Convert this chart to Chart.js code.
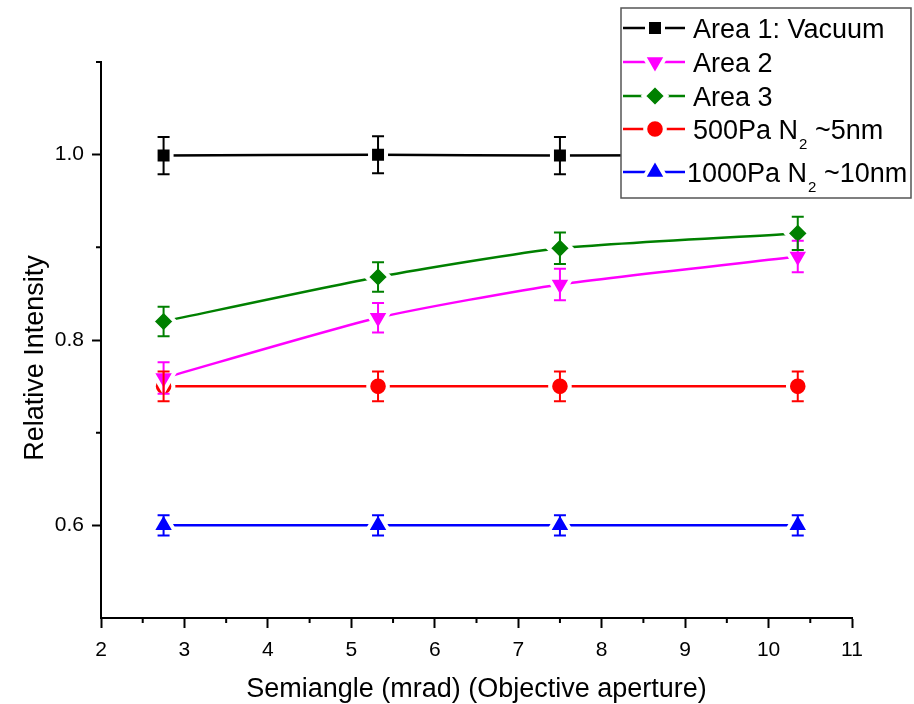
<!DOCTYPE html>
<html>
<head>
<meta charset="utf-8">
<script src="https://cdn.jsdelivr.net/npm/chart.js@4.4.0/dist/chart.umd.min.js"></script>
<style>
  html, body { margin: 0; padding: 0; background: #fff; }
  #wrap { width: 914px; height: 704px; }
</style>
</head>
<body>
<div id="wrap"><canvas id="chart" width="914" height="704"></canvas></div>
<script>
const FONT = "'Liberation Sans', Arial, sans-serif";

// data
const semiangle = [2.75, 5.32, 7.5, 10.35];
const vacuum = [0.999, 1.0, 0.999, 1.0];
const vacuumErr = [0.02, 0.02, 0.02, 0.02];
const area2 = [0.759, 0.824, 0.86, 0.89];
const area2Err = [0.017, 0.016, 0.017, 0.017];
const area3 = [0.82, 0.868, 0.899, 0.915];
const area3Err = [0.016, 0.016, 0.017, 0.018];
const n500 = [0.75, 0.75, 0.75, 0.75];
const n500Err = [0.016, 0.016, 0.016, 0.016];
const n1000 = [0.6, 0.6, 0.6, 0.6];
const n1000Err = [0.011, 0.011, 0.011, 0.011];

const xTicks = [2, 3, 4, 5, 6, 7, 8, 9, 10, 11];
const xMinor = [2.5, 3.5, 4.5, 5.5, 6.5, 7.5, 8.5, 9.5, 10.5];
const yTicks = [0.6, 0.8, 1.0];
const yMinor = [0.7, 0.9, 1.1];

const yTitle = 'Relative Intensity';
const xTitle = 'Semiangle (mrad) (Objective aperture)';

// legend text, [main, subscript, rest]
const legendText = [
  ['Area 1: Vacuum'],
  ['Area 2'],
  ['Area 3'],
  ['500Pa N', '2', ' ~5nm'],
  ['1000Pa N', '2', ' ~10nm']
];

var pts = (ys) => semiangle.map((x, i) => ({ x: x, y: ys[i] }));

var makeSet = (label, ys, errs, color, style, radius, rotation) => ({
  label: label,
  data: pts(ys),
  errors: errs,
  borderColor: color,
  backgroundColor: color,
  borderWidth: 2.5,
  tension: 0.2,
  pointStyle: style,
  pointRadius: radius,
  pointHoverRadius: radius,
  pointRotation: rotation || 0,
  pointBackgroundColor: color,
  pointBorderColor: '#fff',
  pointBorderWidth: 4
});

const datasets = [
  makeSet('Area 1: Vacuum', vacuum, vacuumErr, '#000000', 'rect', 11.3),
  makeSet('Area 2', area2, area2Err, '#ff00ff', 'triangle', 13.5, 180),
  makeSet('Area 3', area3, area3Err, '#008000', 'rectRot', 11.5),
  makeSet('500Pa N2 ~5nm', n500, n500Err, '#ff0000', 'circle', 9.8),
  makeSet('1000Pa N2 ~10nm', n1000, n1000Err, '#0000ff', 'triangle', 13.5)
];

var errorBars = {
  id: 'errorBars',
  afterDatasetsDraw(chart) {
    const ctx = chart.ctx;
    const ys = chart.scales.y;
    chart.data.datasets.forEach((ds, i) => {
      const meta = chart.getDatasetMeta(i);
      ctx.save();
      ctx.strokeStyle = ds.borderColor;
      ctx.lineWidth = 2;
      meta.data.forEach((pt, j) => {
        const v = ds.data[j].y, e = ds.errors[j];
        const top = ys.getPixelForValue(v + e);
        const bot = ys.getPixelForValue(v - e);
        ctx.beginPath();
        ctx.moveTo(pt.x, top); ctx.lineTo(pt.x, bot);
        ctx.moveTo(pt.x - 6, top); ctx.lineTo(pt.x + 6, top);
        ctx.moveTo(pt.x - 6, bot); ctx.lineTo(pt.x + 6, bot);
        ctx.stroke();
      });
      ctx.restore();
    });
  }
};

var minorTicks = {
  id: 'minorTicks',
  afterDraw(chart) {
    const ctx = chart.ctx;
    const xs = chart.scales.x, ys = chart.scales.y;
    const area = chart.chartArea;
    ctx.save();
    ctx.strokeStyle = '#000';
    ctx.lineWidth = 2;
    ctx.beginPath();
    xMinor.forEach(v => {
      const px = xs.getPixelForValue(v);
      ctx.moveTo(px, area.bottom); ctx.lineTo(px, area.bottom + 5);
    });
    yMinor.forEach(v => {
      const py = ys.getPixelForValue(v);
      ctx.moveTo(area.left, py); ctx.lineTo(area.left - 5, py);
    });
    ctx.stroke();
    // y axis title, placed as in the original (a bit below centre)
    ctx.fillStyle = '#000';
    ctx.font = '27px ' + FONT;
    ctx.textAlign = 'center';
    ctx.textBaseline = 'middle';
    ctx.translate(36, 358);
    ctx.rotate(-Math.PI / 2);
    ctx.fillText(yTitle, 0, 0);
    ctx.restore();
  }
};

var drawMarker = (ctx, style, x, y, r, rot) => {
  ctx.beginPath();
  if (style === 'rect') {
    const s = r * Math.SQRT1_2;
    ctx.rect(x - s, y - s, 2 * s, 2 * s);
  } else if (style === 'rectRot') {
    ctx.moveTo(x, y - r); ctx.lineTo(x + r, y); ctx.lineTo(x, y + r); ctx.lineTo(x - r, y);
    ctx.closePath();
  } else if (style === 'circle') {
    ctx.arc(x, y, r, 0, Math.PI * 2);
  } else {
    let a = (rot || 0) * Math.PI / 180;
    for (let k = 0; k < 3; k++) {
      const px = x + Math.sin(a) * r, py = y - Math.cos(a) * r;
      if (k === 0) ctx.moveTo(px, py); else ctx.lineTo(px, py);
      a += Math.PI * 2 / 3;
    }
    ctx.closePath();
  }
};

var boxLegend = {
  id: 'boxLegend',
  afterDraw(chart) {
    const ctx = chart.ctx;
    const rows = [28, 62, 96, 129, 172];
    ctx.save();
    ctx.fillStyle = '#fff';
    ctx.fillRect(621, 8, 290, 190);
    ctx.strokeStyle = '#555';
    ctx.lineWidth = 1.5;
    ctx.strokeRect(621, 8, 290, 190);
    chart.data.datasets.forEach((ds, i) => {
      const y = rows[i];
      // line sample
      ctx.strokeStyle = ds.borderColor;
      ctx.lineWidth = 2.5;
      ctx.beginPath();
      ctx.moveTo(623, y); ctx.lineTo(685, y);
      ctx.stroke();
      ctx.lineWidth = 4;
      ctx.strokeStyle = '#fff';
      ctx.fillStyle = ds.borderColor;
      drawMarker(ctx, ds.pointStyle, 655, y, ds.pointRadius, ds.pointRotation);
      ctx.fill();
      ctx.stroke();
      // text
      const parts = legendText[i];
      let tx = i === 4 ? 687 : 693;
      const base = y + 9.5;
      ctx.fillStyle = '#000';
      ctx.textBaseline = 'alphabetic';
      ctx.textAlign = 'left';
      ctx.font = '27px ' + FONT;
      ctx.fillText(parts[0], tx, base);
      tx += ctx.measureText(parts[0]).width;
      if (parts.length > 1) {
        ctx.font = '15px ' + FONT;
        ctx.fillText(parts[1], tx + 1, base + 10);
        tx += ctx.measureText(parts[1]).width + 1;
        ctx.font = '27px ' + FONT;
        ctx.fillText(parts[2], tx, base);
      }
    });
    ctx.restore();
  }
};

var drawChart = () => {
  new Chart(document.getElementById('chart'), {
    type: 'line',
    data: { datasets: datasets },
    plugins: [errorBars, minorTicks, boxLegend],
    options: {
      responsive: false,
      animation: false,
      events: [],
      layout: { padding: { left: 0, top: 62, right: 62, bottom: 0 } },
      plugins: { legend: { display: false }, tooltip: { enabled: false } },
      scales: {
        x: {
          type: 'linear',
          min: 2,
          max: 11,
          afterFit: (s) => { s.height = 86; },
          afterBuildTicks: (s) => { s.ticks = xTicks.map(v => ({ value: v })); },
          border: { display: true, color: '#000', width: 2 },
          grid: { display: true, drawOnChartArea: false, drawTicks: true, tickLength: 10, tickWidth: 2, tickColor: '#000', color: '#000' },
          ticks: { color: '#000', font: { family: FONT, size: 21 }, padding: 10, maxRotation: 0, callback: (v) => String(v) },
          title: { display: true, text: xTitle, color: '#000', font: { family: FONT, size: 27 }, padding: { top: 0, bottom: -2 } }
        },
        y: {
          type: 'linear',
          min: 0.5,
          max: 1.1,
          afterFit: (s) => { s.width = 101; },
          afterBuildTicks: (s) => { s.ticks = yTicks.map(v => ({ value: v })); },
          border: { display: true, color: '#000', width: 2 },
          grid: { display: true, drawOnChartArea: false, drawTicks: true, tickLength: 9, tickWidth: 2, tickColor: '#000', color: '#000' },
          ticks: { color: '#000', font: { family: FONT, size: 21 }, padding: 8, callback: (v) => v.toFixed(1) },
          title: { display: false }
        }
      }
    }
  });
};

drawChart();
</script>
</body>
</html>
